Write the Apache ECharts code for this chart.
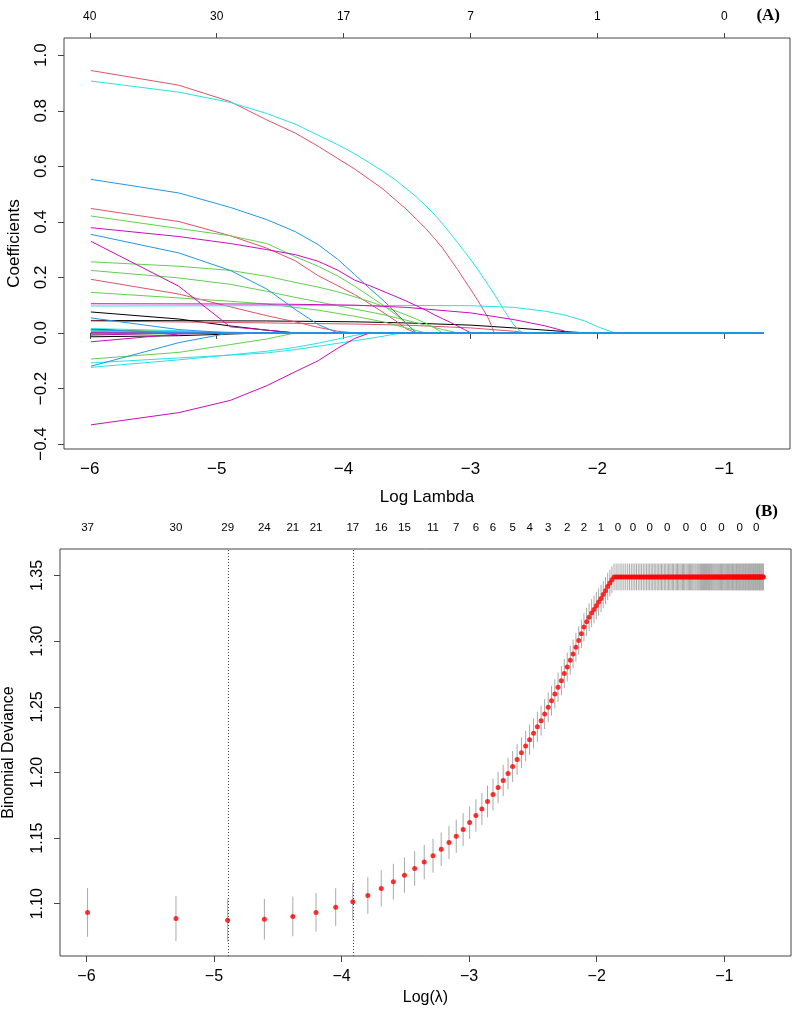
<!DOCTYPE html>
<html>
<head>
<meta charset="utf-8">
<script src="https://cdn.jsdelivr.net/npm/echarts@6/dist/echarts.min.js"></script>
<style>
html, body { margin: 0; padding: 0; background: #fff; }
#main { width: 794px; height: 1012px; }
</style>
</head>
<body>
<div id="main"></div>
<script>
// ---------- panel A: coefficient paths, [log lambda, coefficient] ----------
const blackPaths = [
  [[-5.991,0.0755],[-5.298,0.05],[-4.893,0.025],[-4.605,0.01],[-4.382,0],[-0.693,0]],
  [[-5.991,0.045],[-4.605,0.043],[-3.912,0.04],[-3.507,0.036],[-2.996,0.028],[-2.659,0.018],[-2.408,0.01],[-2.231,0.004],[-2.079,0],[-0.693,0]],
  [[-5.991,-0.014],[-5.298,-0.01],[-4.893,-0.004],[-4.605,0],[-0.693,0]],
  [[-5.991,-0.004],[-5.298,0],[-0.693,0]],
  [[-5.991,0.014],[-5.298,0],[-0.693,0]]
];
const redPaths = [
  [[-5.991,0.945],[-5.298,0.892],[-4.893,0.833],[-4.605,0.767],[-4.382,0.72],[-4.2,0.672],[-4.046,0.628],[-3.912,0.59],[-3.794,0.552],[-3.689,0.518],[-3.594,0.48],[-3.507,0.446],[-3.427,0.41],[-3.352,0.376],[-3.283,0.34],[-3.219,0.305],[-3.158,0.265],[-3.101,0.228],[-3.047,0.19],[-2.996,0.155],[-2.947,0.12],[-2.9,0.085],[-2.856,0.05],[-2.813,0],[-0.693,0]],
  [[-5.991,0.448],[-5.298,0.401],[-4.893,0.35],[-4.605,0.305],[-4.382,0.26],[-4.2,0.206],[-4.046,0.17],[-3.912,0.138],[-3.794,0.105],[-3.689,0.074],[-3.594,0.045],[-3.507,0.015],[-3.427,0],[-0.693,0]],
  [[-5.991,0.193],[-5.298,0.14],[-4.893,0.094],[-4.605,0.062],[-4.382,0.04],[-4.2,0.02],[-4.046,0.006],[-3.912,0],[-0.693,0]],
  [[-5.991,0.043],[-4.605,0.036],[-3.912,0.032],[-3.507,0.028],[-2.996,0.018],[-2.659,0.006],[-2.557,0],[-0.693,0]],
  [[-5.991,0.003],[-5.298,0.002],[-4.893,0],[-0.693,0]],
  [[-5.991,0.01],[-5.298,0.004],[-4.893,0],[-0.693,0]],
  [[-5.991,0.006],[-5.298,0],[-0.693,0]]
];
const greenPaths = [
  [[-5.991,0.421],[-5.298,0.376],[-4.893,0.35],[-4.605,0.322],[-4.382,0.275],[-4.2,0.24],[-4.046,0.205],[-3.912,0.168],[-3.794,0.132],[-3.689,0.1],[-3.594,0.068],[-3.507,0.036],[-3.427,0],[-0.693,0]],
  [[-5.991,0.256],[-5.298,0.24],[-4.893,0.225],[-4.605,0.204],[-4.382,0.182],[-4.2,0.165],[-4.046,0.148],[-3.912,0.13],[-3.794,0.113],[-3.689,0.096],[-3.594,0.08],[-3.507,0.065],[-3.427,0.05],[-3.352,0.035],[-3.283,0.018],[-3.219,0],[-0.693,0]],
  [[-5.991,0.225],[-5.298,0.198],[-4.893,0.175],[-4.605,0.15],[-4.382,0.128],[-4.2,0.112],[-3.912,0.086],[-3.689,0.066],[-3.507,0.046],[-3.352,0.028],[-3.219,0.012],[-3.101,0],[-0.693,0]],
  [[-5.991,0.146],[-5.298,0.126],[-4.893,0.114],[-4.605,0.104],[-4.382,0.092],[-4.2,0.082],[-3.912,0.06],[-3.689,0.04],[-3.507,0.018],[-3.352,0],[-0.693,0]],
  [[-5.991,0.0094],[-5.298,0.006],[-4.605,0],[-0.693,0]],
  [[-5.991,-0.094],[-5.298,-0.07],[-4.893,-0.042],[-4.605,-0.022],[-4.382,0],[-0.693,0]],
  [[-5.991,-0.006],[-5.298,-0.003],[-4.893,0],[-0.693,0]],
  [[-5.991,0.002],[-5.298,0],[-0.693,0]]
];
const cyanPaths = [
  [[-5.991,0.907],[-5.298,0.867],[-4.893,0.83],[-4.605,0.79],[-4.382,0.752],[-4.2,0.712],[-4.046,0.678],[-3.912,0.645],[-3.794,0.612],[-3.689,0.582],[-3.594,0.552],[-3.507,0.52],[-3.427,0.49],[-3.352,0.458],[-3.283,0.426],[-3.219,0.392],[-3.158,0.358],[-3.101,0.325],[-3.047,0.293],[-2.996,0.262],[-2.947,0.232],[-2.9,0.2],[-2.856,0.17],[-2.813,0.14],[-2.773,0.11],[-2.733,0.08],[-2.695,0.054],[-2.659,0.03],[-2.624,0.012],[-2.59,0.002],[-2.557,0],[-0.693,0]],
  [[-5.991,0.097],[-4.605,0.098],[-3.507,0.099],[-2.996,0.098],[-2.659,0.092],[-2.408,0.078],[-2.254,0.064],[-2.1,0.043],[-1.985,0.02],[-1.864,0],[-0.693,0]],
  [[-5.991,0.016],[-5.298,0.008],[-4.893,0],[-0.693,0]],
  [[-5.991,-0.108],[-5.298,-0.09],[-4.893,-0.08],[-4.605,-0.072],[-4.382,-0.06],[-4.2,-0.048],[-3.912,-0.028],[-3.689,-0.012],[-3.594,-0.004],[-3.507,0],[-0.693,0]],
  [[-5.991,-0.124],[-5.298,-0.097],[-4.893,-0.079],[-4.605,-0.066],[-4.382,-0.052],[-4.2,-0.037],[-4.046,-0.022],[-3.912,-0.009],[-3.794,0],[-0.693,0]],
  [[-5.991,0.008],[-5.298,0],[-0.693,0]],
  [[-5.991,0.004],[-5.298,0],[-0.693,0]]
];
const magentaPaths = [
  [[-5.991,0.379],[-5.298,0.347],[-4.893,0.322],[-4.605,0.3],[-4.382,0.282],[-4.2,0.258],[-4.046,0.226],[-3.912,0.19],[-3.794,0.17],[-3.689,0.15],[-3.594,0.132],[-3.507,0.115],[-3.427,0.098],[-3.352,0.082],[-3.283,0.065],[-3.219,0.051],[-3.158,0.038],[-3.101,0.025],[-3.047,0.012],[-2.996,0],[-0.693,0]],
  [[-5.991,0.105],[-4.605,0.104],[-4.2,0.102],[-3.912,0.1],[-3.507,0.092],[-2.996,0.072],[-2.659,0.048],[-2.408,0.025],[-2.254,0.006],[-2.231,0],[-0.693,0]],
  [[-5.991,0.33],[-5.298,0.168],[-4.893,0.022],[-4.605,0.01],[-4.382,0],[-0.693,0]],
  [[-5.991,-0.032],[-5.298,-0.004],[-4.893,0],[-0.693,0]],
  [[-5.991,-0.331],[-5.298,-0.287],[-4.893,-0.243],[-4.605,-0.19],[-4.382,-0.14],[-4.2,-0.1],[-4.046,-0.055],[-3.912,-0.02],[-3.794,0],[-0.693,0]],
  [[-5.991,-0.008],[-5.298,0],[-0.693,0]],
  [[-5.991,0.001],[-5.298,0],[-0.693,0]]
];
const bluePaths = [
  [[-5.991,0.553],[-5.298,0.504],[-4.893,0.452],[-4.605,0.408],[-4.382,0.365],[-4.2,0.318],[-4.046,0.265],[-3.912,0.21],[-3.794,0.16],[-3.689,0.118],[-3.594,0.075],[-3.507,0.035],[-3.427,0],[-0.693,0]],
  [[-5.991,0.355],[-5.298,0.288],[-4.893,0.225],[-4.605,0.158],[-4.382,0.085],[-4.2,0.03],[-4.046,0],[-0.693,0]],
  [[-5.991,0.054],[-5.298,0.012],[-4.893,0],[-0.693,0]],
  [[-5.991,-0.12],[-5.298,-0.035],[-4.893,0],[-0.693,0]],
  [[-5.991,0.012],[-5.298,0],[-0.693,0]],
  [[-5.991,-0.002],[-5.298,0],[-0.693,0]]
];
const coefXTicks = [-6, -5, -4, -3, -2, -1];
const coefTopLabels = ['40', '30', '17', '7', '1', '0'];
const coefYTicks = [-0.4, -0.2, 0.0, 0.2, 0.4, 0.6, 0.8, 1.0];

// ---------- panel B: cross-validation curve ----------
const logLambda = [
  -5.991,-5.298,-4.893,-4.605,-4.382,-4.200,-4.046,-3.912,-3.794,-3.689,
  -3.594,-3.507,-3.427,-3.352,-3.283,-3.219,-3.158,-3.101,-3.047,-2.996,
  -2.947,-2.900,-2.856,-2.813,-2.773,-2.733,-2.695,-2.659,-2.624,-2.590,
  -2.557,-2.526,-2.495,-2.465,-2.436,-2.408,-2.380,-2.354,-2.328,-2.303,
  -2.277,-2.254,-2.231,-2.207,-2.185,-2.163,-2.141,-2.120,-2.100,-2.079,
  -2.060,-2.040,-2.021,-2.003,-1.985,-1.966,-1.949,-1.931,-1.914,-1.897,
  -1.881,-1.864,-1.848,-1.833,-1.817,-1.802,-1.787,-1.772,-1.757,-1.743,
  -1.729,-1.715,-1.701,-1.688,-1.674,-1.661,-1.648,-1.635,-1.622,-1.609,
  -1.597,-1.585,-1.573,-1.561,-1.549,-1.537,-1.526,-1.514,-1.503,-1.492,
  -1.481,-1.470,-1.459,-1.448,-1.438,-1.427,-1.417,-1.407,-1.397,-1.386,
  -1.376,-1.367,-1.357,-1.347,-1.338,-1.328,-1.319,-1.310,-1.300,-1.291,
  -1.282,-1.273,-1.264,-1.255,-1.247,-1.238,-1.229,-1.221,-1.212,-1.204,
  -1.196,-1.187,-1.179,-1.171,-1.163,-1.155,-1.147,-1.139,-1.132,-1.124,
  -1.116,-1.109,-1.101,-1.094,-1.086,-1.079,-1.071,-1.064,-1.057,-1.050,
  -1.043,-1.036,-1.029,-1.022,-1.015,-1.008,-1.001,-0.994,-0.988,-0.981,
  -0.974,-0.968,-0.961,-0.955,-0.948,-0.942,-0.935,-0.929,-0.923,-0.916,
  -0.910,-0.904,-0.898,-0.892,-0.886,-0.880,-0.874,-0.868,-0.862,-0.856,
  -0.850,-0.844,-0.838,-0.833,-0.827,-0.821,-0.815,-0.810,-0.804,-0.799,
  -0.793,-0.788,-0.782,-0.777,-0.771,-0.766,-0.761,-0.755,-0.750,-0.745,
  -0.740,-0.734,-0.729,-0.724,-0.719,-0.714,-0.709,-0.704,-0.698,-0.693
];
const cvMean = [
  1.0934,1.0888,1.0875,1.0882,1.0903,1.0934,1.0974,1.1015,1.1063,1.1117,
  1.1168,1.1218,1.1269,1.1318,1.1366,1.1415,1.1466,1.1514,1.1565,1.1618,
  1.1672,1.1722,1.1779,1.1832,1.1885,1.1939,1.1992,1.2046,1.2099,1.2150,
  1.2201,1.2249,1.2298,1.2348,1.2394,1.2445,1.2496,1.2547,1.2598,1.2649,
  1.2699,1.2753,1.2804,1.2855,1.2903,1.2954,1.3005,1.3056,1.3107,1.3147,
  1.3183,1.3214,1.3241,1.3270,1.3298,1.3325,1.3356,1.3384,1.3417,1.3443,
  1.3468,1.3489,1.3489,1.3489,1.3489,1.3489,1.3489,1.3489,1.3489,1.3489,
  1.3489,1.3489,1.3489,1.3489,1.3489,1.3489,1.3489,1.3489,1.3489,1.3489,
  1.3489,1.3489,1.3489,1.3489,1.3489,1.3489,1.3489,1.3489,1.3489,1.3489,
  1.3489,1.3489,1.3489,1.3489,1.3489,1.3489,1.3489,1.3489,1.3489,1.3489,
  1.3489,1.3489,1.3489,1.3489,1.3489,1.3489,1.3489,1.3489,1.3489,1.3489,
  1.3489,1.3489,1.3489,1.3489,1.3489,1.3489,1.3489,1.3489,1.3489,1.3489,
  1.3489,1.3489,1.3489,1.3489,1.3489,1.3489,1.3489,1.3489,1.3489,1.3489,
  1.3489,1.3489,1.3489,1.3489,1.3489,1.3489,1.3489,1.3489,1.3489,1.3489,
  1.3489,1.3489,1.3489,1.3489,1.3489,1.3489,1.3489,1.3489,1.3489,1.3489,
  1.3489,1.3489,1.3489,1.3489,1.3489,1.3489,1.3489,1.3489,1.3489,1.3489,
  1.3489,1.3489,1.3489,1.3489,1.3489,1.3489,1.3489,1.3489,1.3489,1.3489,
  1.3489,1.3489,1.3489,1.3489,1.3489,1.3489,1.3489,1.3489,1.3489,1.3489,
  1.3489,1.3489,1.3489,1.3489,1.3489,1.3489,1.3489,1.3489,1.3489,1.3489,
  1.3489,1.3489,1.3489,1.3489,1.3489,1.3489,1.3489,1.3489,1.3489,1.3489
];
const cvSd = [
  0.0186,0.0172,0.0163,0.0155,0.0151,0.0147,0.0144,0.0142,0.0140,0.0138,
  0.0136,0.0134,0.0132,0.0131,0.0129,0.0128,0.0127,0.0126,0.0125,0.0124,
  0.0123,0.0122,0.0121,0.0121,0.0120,0.0119,0.0119,0.0118,0.0117,0.0117,
  0.0116,0.0116,0.0115,0.0115,0.0114,0.0114,0.0113,0.0113,0.0112,0.0112,
  0.0111,0.0111,0.0110,0.0110,0.0109,0.0109,0.0108,0.0108,0.0107,0.0107,
  0.0106,0.0106,0.0105,0.0105,0.0104,0.0104,0.0103,0.0103,0.0103,0.0102,
  0.0102,0.0102,0.0102,0.0102,0.0102,0.0102,0.0102,0.0102,0.0102,0.0102,
  0.0102,0.0102,0.0102,0.0102,0.0102,0.0102,0.0102,0.0102,0.0102,0.0102,
  0.0102,0.0102,0.0102,0.0102,0.0102,0.0102,0.0102,0.0102,0.0102,0.0102,
  0.0102,0.0102,0.0102,0.0102,0.0102,0.0102,0.0102,0.0102,0.0102,0.0102,
  0.0102,0.0102,0.0102,0.0102,0.0102,0.0102,0.0102,0.0102,0.0102,0.0102,
  0.0102,0.0102,0.0102,0.0102,0.0102,0.0102,0.0102,0.0102,0.0102,0.0102,
  0.0102,0.0102,0.0102,0.0102,0.0102,0.0102,0.0102,0.0102,0.0102,0.0102,
  0.0102,0.0102,0.0102,0.0102,0.0102,0.0102,0.0102,0.0102,0.0102,0.0102,
  0.0102,0.0102,0.0102,0.0102,0.0102,0.0102,0.0102,0.0102,0.0102,0.0102,
  0.0102,0.0102,0.0102,0.0102,0.0102,0.0102,0.0102,0.0102,0.0102,0.0102,
  0.0102,0.0102,0.0102,0.0102,0.0102,0.0102,0.0102,0.0102,0.0102,0.0102,
  0.0102,0.0102,0.0102,0.0102,0.0102,0.0102,0.0102,0.0102,0.0102,0.0102,
  0.0102,0.0102,0.0102,0.0102,0.0102,0.0102,0.0102,0.0102,0.0102,0.0102,
  0.0102,0.0102,0.0102,0.0102,0.0102,0.0102,0.0102,0.0102,0.0102,0.0102
];
const lambdaMinAt = -4.893;
const lambda1seAt = -3.912;
const cvTopAt = [-5.991,-5.298,-4.893,-4.605,-4.382,-4.200,-3.912,-3.689,-3.507,-3.283,
  -3.101,-2.947,-2.813,-2.659,-2.526,-2.380,-2.231,-2.100,-1.966,-1.833,
  -1.715,-1.585,-1.448,-1.300,-1.163,-1.022,-0.880,-0.750];
const cvTopLabels = ['37','30','29','24','21','21','17','16','15','11',
  '7','6','6','5','4','3','2','2','1','0',
  '0','0','0','0','0','0','0','0'];
const cvXTicks = [-6, -5, -4, -3, -2, -1];
const cvYTicks = [1.10, 1.15, 1.20, 1.25, 1.30, 1.35];

// ---------- chart ----------
var FONT = '"Liberation Sans", Arial, Helvetica, sans-serif';
function minus(s) { return String(s).replace('-', '\u2212'); }
function pick(at, labels, v) {
  var best = 0;
  for (var i = 1; i < at.length; i++) {
    if (Math.abs(at[i] - v) < Math.abs(at[best] - v)) best = i;
  }
  return labels[best];
}

var myChart = echarts.init(document.getElementById('main'));

var series = [];
var groups = [
  [blackPaths, '#000000'],
  [redPaths, '#DF536B'],
  [greenPaths, '#61D04F'],
  [cyanPaths, '#28E2E5'],
  [magentaPaths, '#CD0BBC'],
  [bluePaths, '#2297E6']
];
for (let g = 0; g < groups.length; g++) {
  for (let i = 0; i < groups[g][0].length; i++) {
    series.push({
      type: 'line',
      xAxisIndex: 0,
      yAxisIndex: 0,
      data: groups[g][0][i],
      symbol: 'none',
      silent: true,
      lineStyle: { width: 1, color: groups[g][1] }
    });
  }
}

var errData = [];
var ptData = [];
for (let i = 0; i < logLambda.length; i++) {
  errData.push([logLambda[i], cvMean[i] - cvSd[i], cvMean[i] + cvSd[i]]);
  ptData.push([logLambda[i], cvMean[i]]);
}

series.push({
  type: 'custom',
  xAxisIndex: 2,
  yAxisIndex: 1,
  silent: true,
  data: errData,
  encode: { x: 0, y: [1, 2] },
  renderItem: function (params, api) {
    var a = api.coord([api.value(0), api.value(1)]);
    var b = api.coord([api.value(0), api.value(2)]);
    return {
      type: 'line',
      shape: { x1: a[0], y1: a[1], x2: b[0], y2: b[1] },
      style: { stroke: '#A9A9A9', lineWidth: 1 }
    };
  }
});
series.push({
  type: 'scatter',
  xAxisIndex: 2,
  yAxisIndex: 1,
  data: ptData,
  symbolSize: 5,
  silent: true,
  itemStyle: { color: '#FF0000' },
  z: 5,
  markLine: {
    silent: true,
    symbol: 'none',
    label: { show: false },
    lineStyle: { color: '#444', width: 1, type: [1, 2] },
    data: [{ xAxis: lambdaMinAt }, { xAxis: lambda1seAt }]
  }
});

function bottomAxis(grid, min, max, ticks, name, size, margin, gap) {
  return {
    gridIndex: grid, type: 'value', position: 'bottom', min: min, max: max,
    axisLine: { show: false }, splitLine: { show: false },
    axisTick: { show: true, length: 6, customValues: ticks, lineStyle: { color: '#444' } },
    axisLabel: { customValues: ticks, formatter: function (v) { return minus(v); },
      color: '#000', fontSize: size, fontFamily: FONT, margin: margin },
    name: name, nameLocation: 'middle', nameGap: gap,
    nameTextStyle: { color: '#000', fontSize: size, fontFamily: FONT }
  };
}

var option = {
  animation: false,
  backgroundColor: '#fff',
  title: [
    { text: '(A)', right: 9, top: 2, textStyle: { fontFamily: '"Liberation Serif", "Times New Roman", serif', fontWeight: 'bold', fontSize: 17, color: '#000' } },
    { text: '(B)', right: 11, top: 498, textStyle: { fontFamily: '"Liberation Serif", "Times New Roman", serif', fontWeight: 'bold', fontSize: 17, color: '#000' } }
  ],
  grid: [
    { left: 64, top: 38, width: 726, height: 411, show: true, borderColor: '#444', borderWidth: 1, containLabel: false, outerBoundsMode: 'none' },
    { left: 60, top: 549, width: 731, height: 407, show: true, borderColor: '#444', borderWidth: 1, containLabel: false, outerBoundsMode: 'none' }
  ],
  xAxis: [
    bottomAxis(0, -6.203, -0.482, coefXTicks, 'Log Lambda', 17, 12, 40),
    {
      gridIndex: 0, type: 'value', position: 'top', min: -6.203, max: -0.482,
      axisLine: { show: false }, splitLine: { show: false },
      axisTick: { show: true, length: 5, customValues: coefXTicks, lineStyle: { color: '#444' } },
      axisLabel: { customValues: coefXTicks, formatter: function (v) { return pick(coefXTicks, coefTopLabels, v); },
        color: '#000', fontSize: 12, fontFamily: FONT, margin: 15 }
    },
    bottomAxis(1, -6.207, -0.477, cvXTicks, 'Log(\u03bb)', 16, 13, 34),
    {
      gridIndex: 1, type: 'value', position: 'top', min: -6.207, max: -0.477,
      axisLine: { show: false }, splitLine: { show: false },
      axisTick: { show: false },
      axisLabel: { customValues: cvTopAt, formatter: function (v) { return pick(cvTopAt, cvTopLabels, v); },
        color: '#000', fontSize: 11.5, fontFamily: FONT, margin: 15 }
    }
  ],
  yAxis: [
    {
      gridIndex: 0, type: 'value', min: -0.418, max: 1.062,
      axisLine: { show: false }, splitLine: { show: false },
      axisTick: { show: true, length: 6, customValues: coefYTicks, lineStyle: { color: '#444' } },
      axisLabel: { customValues: coefYTicks, rotate: 90, formatter: function (v) { return minus(v.toFixed(1)); },
        color: '#000', fontSize: 17, fontFamily: FONT, margin: 14 },
      name: 'Coefficients', nameLocation: 'middle', nameRotate: 90, nameGap: 41,
      nameTextStyle: { color: '#000', fontSize: 17, fontFamily: FONT }
    },
    {
      gridIndex: 1, type: 'value', min: 1.0602, max: 1.3702,
      axisLine: { show: false }, splitLine: { show: false },
      axisTick: { show: true, length: 6, customValues: cvYTicks, lineStyle: { color: '#444' } },
      axisLabel: { customValues: cvYTicks, rotate: 90, formatter: function (v) { return v.toFixed(2); },
        color: '#000', fontSize: 16, fontFamily: FONT, margin: 14 },
      name: 'Binomial Deviance', nameLocation: 'middle', nameRotate: 90, nameGap: 43,
      nameTextStyle: { color: '#000', fontSize: 16, fontFamily: FONT }
    }
  ],
  series: series
};

myChart.setOption(option);
</script>
</body>
</html>
